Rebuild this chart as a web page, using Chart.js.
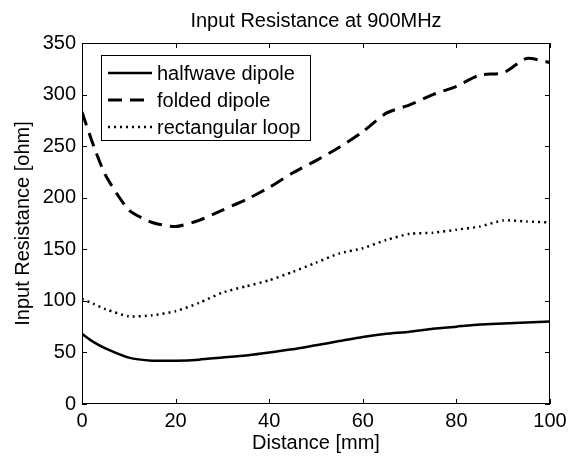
<!DOCTYPE html>
<html>
<head>
<meta charset="utf-8">
<script src="https://cdn.jsdelivr.net/npm/chart.js@4/dist/chart.umd.min.js"></script>
<style>
  html, body { margin: 0; padding: 0; background: #fff; }
  #wrap { width: 575px; height: 457px; }
</style>
</head>
<body>
<div id="wrap"><canvas id="c"></canvas></div>
<script>
const distance = [0, 2.5, 5, 10, 15, 20, 25, 30, 35, 40, 45, 50, 55, 60, 65, 70, 75, 80, 85, 90, 95, 100];
const halfwave = [68, 60, 54, 45, 42, 42, 43, 45, 47, 50, 53, 57, 61, 65, 68, 70, 73, 75, 77, 78, 79, 80];
const folded   = [283, 250, 222, 188, 176, 172, 178, 188, 198, 210, 224, 236, 249, 264, 282, 290, 300, 308, 319, 321, 335, 331];
const loop     = [102, 97, 92, 85, 86, 90, 98, 108, 114, 120, 128, 137, 146, 151, 159, 165, 166, 169, 172, 178, 177, 176];
const xTicks = [0, 20, 40, 60, 80, 100];
const yTicks = [0, 50, 100, 150, 200, 250, 300, 350];
const names = ['halfwave dipole', 'folded dipole', 'rectangular loop'];
const chartTitle = 'Input Resistance at 900MHz';

const FONT = 'Liberation Sans, Arial, Helvetica, sans-serif';
const pts = (ys) => distance.map((x, i) => ({x, y: ys[i]}));

// box around the plot + inward ticks on all four sides (matlab style), title, legend
const boxPlugin = {
  id: 'box',
  afterDraw(chart) {
    const {ctx, chartArea: a, scales} = chart;
    ctx.save();
    ctx.strokeStyle = '#000';
    ctx.lineWidth = 1;
    ctx.strokeRect(a.left + 0.5, a.top + 0.5, a.right - a.left - 1, a.bottom - a.top - 1);
    ctx.beginPath();
    xTicks.forEach(v => {
      const px = Math.round(scales.x.getPixelForValue(v)) + 0.5;
      ctx.moveTo(px, a.bottom); ctx.lineTo(px, a.bottom - 5);
      ctx.moveTo(px, a.top); ctx.lineTo(px, a.top + 5);
    });
    yTicks.forEach(v => {
      const py = Math.round(scales.y.getPixelForValue(v)) + 0.5;
      ctx.moveTo(a.left, py); ctx.lineTo(a.left + 5, py);
      ctx.moveTo(a.right, py); ctx.lineTo(a.right - 5, py);
    });
    ctx.stroke();

    // title centred over the axes
    ctx.fillStyle = '#000';
    ctx.font = '20px ' + FONT;
    ctx.textAlign = 'center';
    ctx.textBaseline = 'alphabetic';
    ctx.fillText(chartTitle, (a.left + a.right) / 2, 27);

    // legend
    const lx = 101, ly = 55, lw = 209, lh = 85;
    ctx.fillStyle = '#fff';
    ctx.fillRect(lx, ly, lw, lh);
    ctx.strokeRect(lx + 0.5, ly + 0.5, lw, lh);
    ctx.textAlign = 'left';
    ctx.textBaseline = 'middle';
    chart.data.datasets.forEach((ds, i) => {
      const y = ly + 18 + i * 27;
      ctx.beginPath();
      ctx.lineWidth = ds.borderWidth;
      ctx.setLineDash(ds.borderDash || []);
      ctx.moveTo(108, y); ctx.lineTo(152, y);
      ctx.stroke();
      ctx.setLineDash([]);
      ctx.fillStyle = '#000';
      ctx.fillText(ds.label, 157, y + 1);
    });
    ctx.restore();
  }
};

new Chart(document.getElementById('c'), {
  type: 'line',
  data: {
    datasets: [
      { label: names[0], data: pts(halfwave), borderColor: '#000', borderWidth: 2.5 },
      { label: names[1], data: pts(folded), borderColor: '#000', borderWidth: 3, borderDash: [14, 8] },
      { label: names[2], data: pts(loop), borderColor: '#000', borderWidth: 2.5, borderDash: [2, 4] }
    ]
  },
  options: {
    responsive: true,
    maintainAspectRatio: false,
    animation: false,
    layout: { padding: { left: 0, right: 25, top: 43, bottom: 0 } },
    elements: { point: { radius: 0 }, line: { tension: 0.2, fill: false } },
    plugins: {
      legend: { display: false },
      tooltip: { enabled: false },
      title: { display: false }
    },
    scales: {
      x: {
        type: 'linear', min: 0, max: 100,
        afterFit: s => { s.height = 53; },
        afterBuildTicks: s => { s.ticks = xTicks.map(v => ({value: v})); },
        grid: { display: false, drawTicks: false },
        border: { display: false },
        ticks: { color: '#000', padding: 5, maxRotation: 0, font: { family: FONT, size: 20 } },
        title: { display: true, text: 'Distance [mm]', color: '#000', padding: { top: 0, bottom: 2 },
                 font: { family: FONT, size: 20 } }
      },
      y: {
        min: 0, max: 350,
        afterFit: s => { s.width = 82; },
        afterBuildTicks: s => { s.ticks = yTicks.map(v => ({value: v})); },
        grid: { display: false, drawTicks: false },
        border: { display: false },
        ticks: { color: '#000', padding: 6, font: { family: FONT, size: 20 } },
        title: { display: true, text: 'Input Resistance [ohm]', color: '#000', padding: { top: 11, bottom: 0 },
                 font: { family: FONT, size: 20 } }
      }
    }
  },
  plugins: [boxPlugin]
});
</script>
</body>
</html>
